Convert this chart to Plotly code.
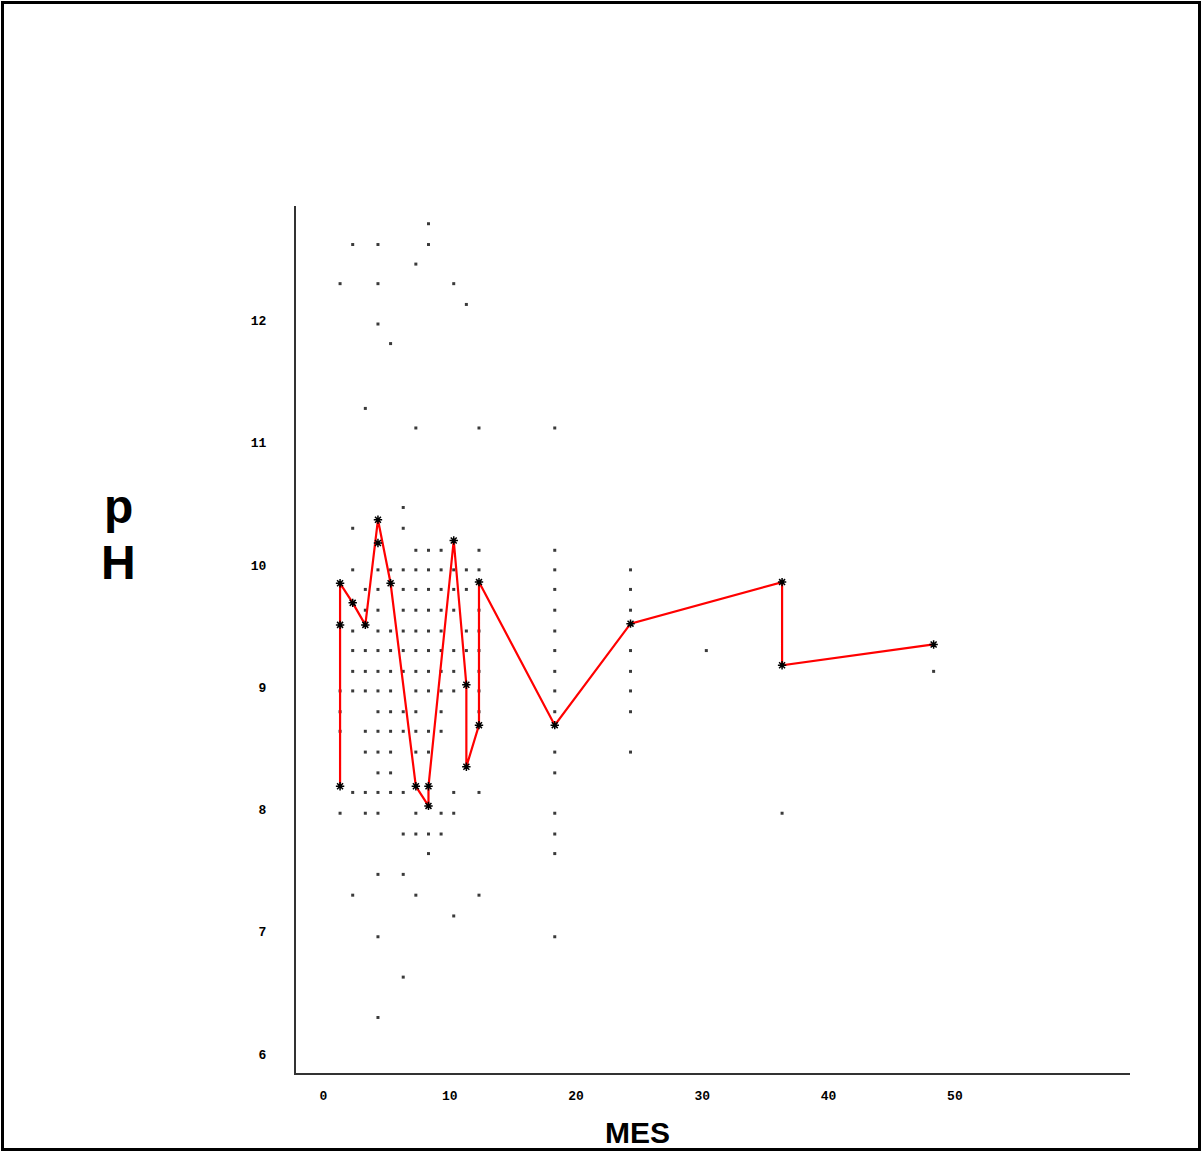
import plotly.graph_objects as go

# --- pH readings per month (individual samples) ---
months = [1, 2, 3, 4, 5, 6, 7, 8, 9, 10, 11, 12, 18, 24, 30, 36, 48]
ph_m1 = [12.30, 8.97, 8.80, 8.64, 7.97]
ph_m2 = [12.62, 10.30, 9.96, 9.46, 9.30, 9.13, 8.97, 8.14, 7.30]
ph_m3 = [11.28, 9.80, 9.63, 9.30, 9.13, 8.97, 8.64, 8.47, 8.14, 7.97]
ph_m4 = [12.62, 12.30, 11.97, 9.96, 9.80, 9.63, 9.46, 9.30, 9.13, 8.97, 8.80,
         8.64, 8.47, 8.30, 8.14, 7.97, 7.47, 6.96, 6.30]
ph_m5 = [11.81, 9.96, 9.46, 9.30, 9.13, 8.97, 8.80, 8.64, 8.47, 8.30, 8.14]
ph_m6 = [10.47, 10.30, 9.96, 9.80, 9.63, 9.46, 9.30, 9.13, 8.80, 8.64, 8.14,
         7.80, 7.47, 6.63]
ph_m7 = [12.46, 11.12, 10.12, 9.96, 9.80, 9.63, 9.46, 9.30, 9.13, 8.97, 8.80,
         8.64, 8.47, 7.97, 7.80, 7.30]
ph_m8 = [12.79, 12.62, 10.12, 9.96, 9.80, 9.63, 9.46, 9.30, 9.13, 8.97, 8.64,
         8.47, 7.80, 7.64]
ph_m9 = [10.12, 9.96, 9.80, 9.63, 9.46, 9.30, 9.13, 8.97, 8.80, 8.64, 7.97, 7.80]
ph_m10 = [12.30, 9.96, 9.80, 9.63, 9.30, 9.13, 8.97, 8.14, 7.97, 7.13]
ph_m11 = [12.13, 9.96, 9.80, 9.46, 9.30]
ph_m12 = [11.12, 10.12, 9.96, 9.63, 9.46, 9.30, 9.13, 8.97, 8.80, 8.14, 7.30]
ph_m18 = [11.12, 10.12, 9.96, 9.80, 9.63, 9.46, 9.30, 9.13, 8.97, 8.80, 8.47,
          8.30, 7.97, 7.80, 7.64, 6.96]
ph_m24 = [9.96, 9.80, 9.63, 9.30, 9.13, 8.97, 8.80, 8.47]
ph_m30 = [9.30]
ph_m36 = [7.97]
ph_m48 = [9.13]

samples = [ph_m1, ph_m2, ph_m3, ph_m4, ph_m5, ph_m6, ph_m7, ph_m8, ph_m9,
           ph_m10, ph_m11, ph_m12, ph_m18, ph_m24, ph_m30, ph_m36, ph_m48]

# --- highlighted readings (asterisks) ---
star_month = [1, 1, 1, 2, 3, 4, 4, 5, 7, 8, 8, 10, 11, 11, 12, 12, 18, 24, 36, 36, 48]
star_ph = [9.85, 9.51, 8.19, 9.69, 9.51, 10.37, 10.18, 9.85, 8.19, 8.19, 8.03,
           10.20, 9.02, 8.35, 8.69, 9.86, 8.69, 9.52, 9.86, 9.18, 9.35]

# --- red trace through the highlighted readings ---
line_month = [1, 1, 2, 3, 4, 5, 7, 8, 8, 10, 11, 11, 12, 12, 18, 24, 36, 36, 48]
line_ph = [8.19, 9.85, 9.69, 9.51, 10.37, 9.85, 8.19, 8.03, 8.19, 10.20, 9.02,
           8.35, 8.69, 9.86, 8.69, 9.52, 9.86, 9.18, 9.35]

x_ticks = [0, 10, 20, 30, 40, 50]
y_ticks = [6, 7, 8, 9, 10, 11, 12]

W, H = 1202, 1153
L, R, T, B = 296, 72, 206, 80
PW, PH = W - L - R, H - T - B


def px(x):
    return (x - L) / PW


def py(y):
    return (H - B - y) / PH


dot_x, dot_y = [], []
for m, vals in zip(months, samples):
    dot_x += [m] * len(vals)
    dot_y += vals

fig = go.Figure()
fig.add_trace(go.Scatter(
    x=dot_x, y=dot_y, mode="markers",
    marker=dict(symbol="square", size=3, color="#3a3a3a", line=dict(width=0)),
    hoverinfo="x+y", showlegend=False,
))
fig.add_trace(go.Scatter(
    x=line_month, y=line_ph, mode="lines",
    line=dict(color="#ff0000", width=2.2),
    showlegend=False,
))
fig.add_trace(go.Scatter(
    x=star_month, y=star_ph, mode="markers",
    marker=dict(symbol="asterisk-open", size=7, color="black",
                line=dict(color="#111111", width=1.5)),
    showlegend=False,
))

tick_font = dict(family="Liberation Mono", size=13, color="black", weight="bold")

fig.update_xaxes(
    range=[-2.49, 63.55], tickvals=x_ticks, ticktext=[str(v) for v in x_ticks],
    showgrid=False, zeroline=False, showline=True, linecolor="#333333",
    linewidth=2, ticks="", tickfont=tick_font, ticklabelstandoff=9,
    ticklabelshift=-4,
)
fig.update_yaxes(
    range=[5.846, 12.935], tickvals=y_ticks, ticktext=[str(v) for v in y_ticks],
    showgrid=False, zeroline=False, showline=True, linecolor="#333333",
    linewidth=2, ticks="", tickfont=tick_font, ticklabelstandoff=25,
)

title_font = dict(family="Liberation Sans", size=48, color="black")
fig.add_annotation(x=px(118), y=py(506), xref="paper", yref="paper",
                   text="<b>p</b>", showarrow=False, font=title_font,
                   xanchor="center", yanchor="middle")
fig.add_annotation(x=px(118), y=py(562), xref="paper", yref="paper",
                   text="<b>H</b>", showarrow=False, font=title_font,
                   xanchor="center", yanchor="middle")
fig.add_annotation(x=px(637), y=py(1132), xref="paper", yref="paper",
                   text="<b>MES</b>", showarrow=False,
                   font=dict(family="Liberation Sans", size=30, color="black"),
                   xanchor="center", yanchor="middle")

# outer frame around the whole figure
fig.add_shape(type="rect", xref="paper", yref="paper",
              x0=px(2.5), x1=px(1199.5), y0=py(1149.5), y1=py(2.5),
              line=dict(color="black", width=3), layer="above")

fig.update_layout(
    width=W, height=H,
    margin=dict(l=L, r=R, t=T, b=B),
    paper_bgcolor="white", plot_bgcolor="white",
    showlegend=False,
)

fig.write_html("out.html")
